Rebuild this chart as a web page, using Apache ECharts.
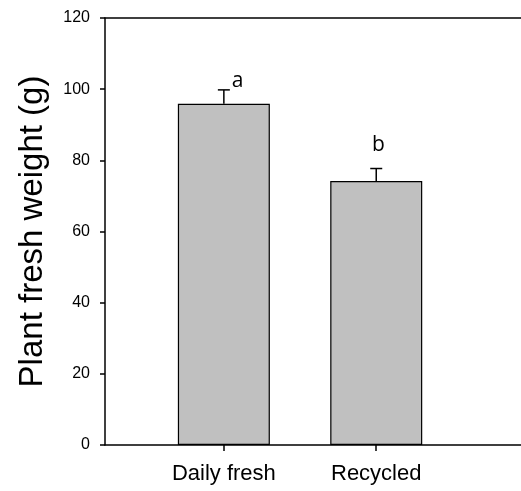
<!DOCTYPE html>
<html>
<head>
<meta charset="utf-8">
<script src="https://cdn.jsdelivr.net/npm/echarts@6/dist/echarts.min.js"></script>
<style>
html,body{margin:0;padding:0;background:#fff;}
#chart{width:521px;height:491px;}
</style>
</head>
<body>
<div id="chart"></div>
<script>
// ---- data ----
const categories = ['Daily fresh', 'Recycled'];
const categoryX = [1, 2];
const means = [95.9, 74.2];
const errors = [3.9, 3.5];
const letters = ['a', 'b'];
const letterX = [1.09, 2.015];
const letterY = [102.4, 84.3];
const yTicks = [0, 20, 40, 60, 80, 100, 120];

const chart = echarts.init(document.getElementById('chart'), null, {renderer: 'canvas'});
const fontArial = '"Liberation Sans", Arial, sans-serif';

const barData = categoryX.map((x, i) => [x, means[i]]);
const errData = categoryX.map((x, i) => [x, means[i], means[i] + errors[i]]);
const letterData = letters.map((t, i) => ({value: [letterX[i], letterY[i]], name: t}));

const option = {
  animation: false,
  grid: {left: 105, right: 0, top: 18, bottom: 46, containLabel: false},
  xAxis: [{
    type: 'value', min: 0.22, max: 2.95, position: 'bottom',
    splitLine: {show: false},
    axisLine: {show: true, onZero: false, lineStyle: {color: '#000', width: 1.5}},
    axisTick: {show: true, customValues: categoryX, length: 6, lineStyle: {color: '#000', width: 1.5}},
    axisLabel: {
      show: true, customValues: categoryX, margin: 18,
      fontFamily: fontArial, fontSize: 22, color: '#000',
      formatter: v => categories[categoryX.indexOf(Math.round(v))] || ''
    }
  }, {
    type: 'value', min: 0.22, max: 2.95, position: 'top',
    splitLine: {show: false},
    axisLine: {show: true, onZero: false, lineStyle: {color: '#000', width: 1.5}},
    axisTick: {show: false}, axisLabel: {show: false}
  }],
  yAxis: {
    type: 'value', min: 0, max: 120, interval: 20,
    name: 'Plant fresh weight (g)', nameLocation: 'middle', nameGap: 56,
    nameTextStyle: {fontFamily: fontArial, fontSize: 33, color: '#000'},
    splitLine: {show: false},
    axisLine: {show: true, lineStyle: {color: '#000', width: 1.5}},
    axisTick: {show: true, length: 5, lineStyle: {color: '#000', width: 1.5}},
    axisLabel: {margin: 15, fontFamily: fontArial, fontSize: 16, color: '#000',
      formatter: v => String(v)}
  },
  series: [
    {
      type: 'bar', data: barData, barWidth: 92,
      itemStyle: {color: '#c0c0c0', borderColor: '#000', borderWidth: 1.2},
      z: 2
    },
    {
      type: 'custom', data: errData, z: 3,
      renderItem: function (params, api) {
        const x = api.value(0);
        const lo = api.coord([x, api.value(1)]);
        const hi = api.coord([x, api.value(2)]);
        const half = 6;
        const st = {stroke: '#000', lineWidth: 1.5};
        return {
          type: 'group',
          children: [
            {type: 'line', shape: {x1: lo[0], y1: lo[1], x2: hi[0], y2: hi[1]}, style: st},
            {type: 'line', shape: {x1: hi[0] - half, y1: hi[1], x2: hi[0] + half, y2: hi[1]}, style: st}
          ]
        };
      }
    },
    {
      type: 'scatter', data: letterData, symbolSize: 0, z: 4,
      itemStyle: {opacity: 1},
      label: {
        show: true, position: 'inside', formatter: p => p.name, opacity: 1,
        fontFamily: '"Open Sans", "DejaVu Sans", sans-serif', fontSize: 21, color: '#000',
        textBorderWidth: 0
      }
    }
  ]
};
chart.setOption(option);
</script>
</body>
</html>
